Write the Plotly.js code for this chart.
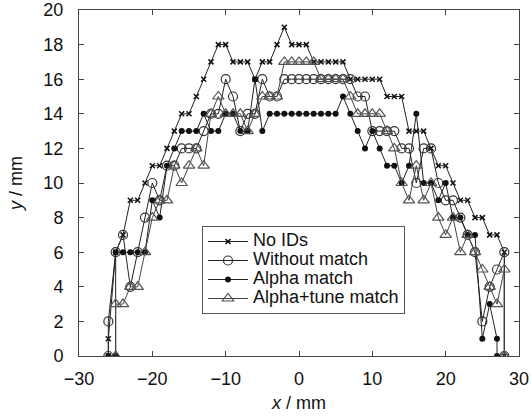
<!DOCTYPE html>
<html>
<head>
<meta charset="utf-8">
<script src="https://cdn.plot.ly/plotly-3.0.1.min.js"></script>
<style>html,body{margin:0;padding:0;background:#fff;}#chart{width:531px;height:417px;}</style>
</head>
<body>
<div id="chart"></div>
<script>
// Series names
var seriesNames = ["No IDs", "Without match", "Alpha match", "Alpha+tune match"];

// No IDs
var noIdsX = [-26,-26,-25,-24,-23,-22,-21,-20,-19,-18,-17,-16,-15,-14,-13,-12,-11,-10,-9,-8,-7,-6,-5,-4,-3,-2,-1,0,1,2,3,4,5,6,7,8,9,10,11,12,13,14,15,16,17,18,19,20,21,22,23,24,25,26,27,28,28];
var noIdsY = [0,1,6,7,9,9,10,11,11,12,13,14,14,15,16,17,18,18,17,17,17,16,17,17,18,19,18,18,18,17,17,17,17,17,16,16,16,16,16,15,15,15,13,13,13,12,11,11,10,9,9,8,8,7,7,6,0];

// Without match
var withoutX = [-26,-26,-25,-24,-23,-22,-21,-20,-19,-18,-17,-16,-15,-14,-13,-12,-11,-10,-9,-8,-7,-6,-5,-4,-3,-2,-1,0,1,2,3,4,5,6,7,8,9,10,11,12,13,14,15,16,17,18,19,20,21,22,23,24,25,26,27,28,28];
var withoutY = [0,2,6,7,4,6,8,10,9,11,11,12,12,12,13,14,14,16,15,13,14,14,16,15,15,16,16,16,16,16,16,16,16,16,16,15,15,13,13,13,13,12,12,10,12,12,10,9,9,8,7,6,2,4,5,6,0];

// Alpha match
var alphaX = [-26,-25,-25,-24,-23,-22,-21,-20,-19,-18,-17,-16,-15,-14,-13,-12,-11,-10,-9,-8,-7,-6,-5,-4,-3,-2,-1,0,1,2,3,4,5,6,7,8,9,10,11,12,13,14,15,16,17,18,19,20,21,22,23,24,25,26,27,27];
var alphaY = [0,0,6,6,6,6,6,9,8,11,12,13,13,13,14,13,13,14,14,13,13,16,13,14,14,14,14,14,14,14,14,14,14,15,14,13,12,13,12,11,11,10,11,14,10,10,9,10,8,8,7,7,1,3,1,0];

// Alpha+tune match
var tuneX = [-25,-25,-24,-23,-22,-21,-20,-19,-18,-17,-16,-15,-14,-13,-12,-11,-10,-9,-8,-7,-6,-5,-4,-3,-2,-1,0,1,2,3,4,5,6,7,8,9,10,11,12,13,14,15,16,17,18,19,20,21,22,23,24,25,26,27,28,28];
var tuneY = [0,3,3,4,4,6,8,9,9,11,10,11,12,11,14,15,14,14,14,13,14,15,15,15,17,17,17,17,17,16,16,16,16,15,14,14,14,14,13,12,10,9,11,9,10,8,7,8,6,7,6,5,4,3,5,0];

// Axis ticks
var xTicks = [-30,-20,-10,0,10,20,30];
var yTicks = [0,2,4,6,8,10,12,14,16,18,20];

var lineCol = "#222";
function lbl(s){ return '<span style="font-size:18px">' + s + '</span>'; }

var traces = [
  {x: noIdsX, y: noIdsY, name: lbl(seriesNames[0]), mode: "lines+markers",
   line: {color: lineCol, width: 1},
   marker: {symbol: "x-thin-open", size: 5, color: "#111", line: {width: 1.5, color: "#111"}}},
  {x: withoutX, y: withoutY, name: lbl(seriesNames[1]), mode: "lines+markers",
   line: {color: lineCol, width: 1},
   marker: {symbol: "circle-open", size: 9, color: "#333", line: {width: 1.2, color: "#333"}}},
  {x: alphaX, y: alphaY, name: lbl(seriesNames[2]), mode: "lines+markers",
   line: {color: lineCol, width: 1},
   marker: {symbol: "circle", size: 6, color: "#111"}},
  {x: tuneX, y: tuneY, name: lbl(seriesNames[3]), mode: "lines+markers",
   line: {color: "#444", width: 1},
   marker: {symbol: "triangle-up-open", size: 10, color: "#555", line: {width: 1.2, color: "#555"}}}
];

var axisCommon = {
  showline: true, mirror: "allticks", linecolor: "#444", linewidth: 1,
  ticks: "inside", ticklen: 5, tickcolor: "#444", showgrid: false, zeroline: false,
  tickfont: {family: "Liberation Sans, Arial, sans-serif", size: 18, color: "#111"}
};

var layout = {
  width: 531, height: 417,
  margin: {l: 79, r: 12, t: 10, b: 61},
  paper_bgcolor: "#fff", plot_bgcolor: "#fff",
  font: {family: "Liberation Sans, Arial, sans-serif", color: "#111"},
  showlegend: true,
  legend: {x: 0.2795, y: 0.3757, xanchor: "left", yanchor: "top",
    bgcolor: "#fff", bordercolor: "#555", borderwidth: 1,
    font: {family: "Liberation Sans, Arial, sans-serif", size: 11, color: "#111"},
    itemwidth: 40},
  xaxis: Object.assign({}, axisCommon, {range: [-30, 30], tickvals: xTicks,
    ticklabelstandoff: 6,
    title: {text: "<i>x</i> / mm", font: {size: 18}, standoff: 8}}),
  yaxis: Object.assign({}, axisCommon, {range: [0, 20], tickvals: yTicks,
    ticklabelstandoff: 11,
    title: {text: "<i>y</i> / mm", font: {size: 18}, standoff: 16}})
};

Plotly.newPlot("chart", traces, layout, {displayModeBar: false, staticPlot: true});
</script>
</body>
</html>
